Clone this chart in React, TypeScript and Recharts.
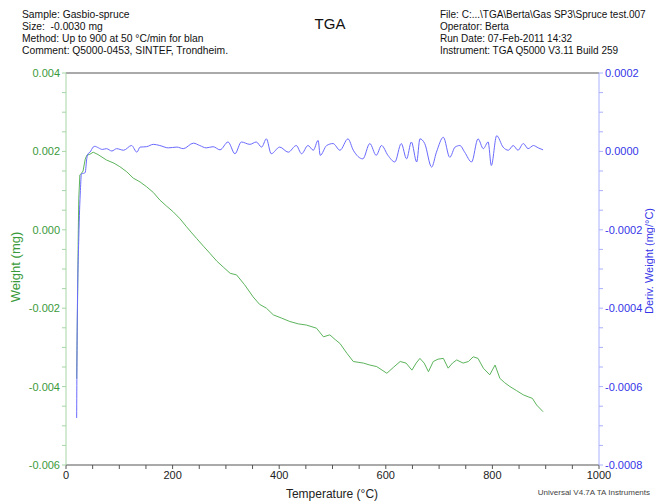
import React from "react";
import { ComposedChart, Line, XAxis, YAxis, ReferenceLine } from "recharts";

const weightTemps = [
  20, 21, 22, 23, 24, 26, 29, 32, 36, 39,
  45, 51, 60, 76, 90, 101, 114, 126, 139, 151,
  164, 176, 189, 201, 214, 226, 236, 245, 258, 270,
  283, 295, 308, 320, 335, 351, 363, 376, 389, 404,
  420, 436, 451, 470, 483, 495, 505, 514, 527, 539,
  558, 570, 583, 602, 615, 627, 638, 649, 657, 664,
  672, 680, 689, 698, 708, 717, 725, 733, 745, 755,
  764, 773, 783, 795, 805, 814, 823, 833, 845, 858,
  867, 875, 883, 895,
];
const weightValues = [
  -0.0038, -0.0026, -0.0015, -0.0001, 0.0008, 0.0014, 0.00144, 0.0015, 0.0018, 0.0019,
  0.00193, 0.00198, 0.00192, 0.00178, 0.0017, 0.00161, 0.00148, 0.00132, 0.00122, 0.0011,
  0.00095, 0.00076, 0.0006, 0.00046, 0.00028, 0.00008, -0.00008, -0.00022, -0.00042, -0.0006,
  -0.0008, -0.00095, -0.00111, -0.00115, -0.0014, -0.00171, -0.0019, -0.002, -0.00217, -0.00225,
  -0.00234, -0.0024, -0.00243, -0.00251, -0.00273, -0.00268, -0.0028, -0.0029, -0.00315, -0.00336,
  -0.0034, -0.00345, -0.00349, -0.00366, -0.0035, -0.00336, -0.0034, -0.00358, -0.0034, -0.00328,
  -0.0034, -0.00362, -0.00336, -0.0033, -0.00328, -0.00353, -0.0034, -0.00332, -0.0034, -0.00336,
  -0.00324, -0.00328, -0.00353, -0.0037, -0.00345, -0.00379, -0.0039, -0.004, -0.0041, -0.00421,
  -0.00426, -0.0043, -0.00447, -0.00464,
];

const derivTemps = [
  20, 21, 24, 27, 29, 33, 36, 39, 42, 45,
  51, 54, 61, 68, 76, 86, 95, 108, 123, 133,
  139, 151, 164, 176, 192, 208, 220, 239, 251, 263,
  276, 289, 304, 317, 329, 345, 357, 367, 376, 385,
  401, 417, 432, 442, 454, 464, 473, 477, 489, 501,
  514, 529, 539, 557, 570, 582, 592, 604, 617, 629,
  639, 648, 658, 664, 673, 686, 695, 708, 720, 730,
  739, 748, 761, 773, 783, 792, 798, 808, 820, 830,
  839, 848, 858, 867, 877, 886, 895,
];
const derivValues = [
  -68e-5, -45e-5, -22e-5, -10e-5, -5.7e-5, -5.6e-5, -5.4e-5, -1.8e-5, -0.5e-5, -0.2e-5,
  1.1e-5, 1.3e-5, 0.9e-5, 0.5e-5, 0.7e-5, 0.1e-5, 0.7e-5, 0.3e-5, 1.5e-5, -0.2e-5,
  1.1e-5, 1.2e-5, 1.8e-5, 1.5e-5, 0.9e-5, 1.1e-5, 0.7e-5, 2.1e-5, 1.5e-5, 0.9e-5,
  1.2e-5, 0.4e-5, 2.4e-5, -0.6e-5, 2.4e-5, 1.8e-5, 2.4e-5, 1.1e-5, 3.2e-5, -0.6e-5,
  1.1e-5, -0.2e-5, 1.5e-5, -0.6e-5, 1.5e-5, 0.3e-5, 2.8e-5, -1.0e-5, 1.5e-5, 2.0e-5,
  0.3e-5, 3.2e-5, 0.3e-5, -1.9e-5, 2.0e-5, -1.0e-5, 1.5e-5, -1.0e-5, -2.7e-5, 2.0e-5,
  -1.9e-5, 2.4e-5, -2.7e-5, 3.2e-5, 2.0e-5, -4.0e-5, -0.2e-5, 3.6e-5, -1.5e-5, 1.1e-5,
  1.5e-5, -0.2e-5, -2.7e-5, 3.2e-5, 0.7e-5, 2.4e-5, -3.6e-5, 4.0e-5, 1.1e-5, 0.3e-5,
  1.5e-5, 0.3e-5, 2.0e-5, 0.7e-5, 1.5e-5, 0.9e-5, 0.4e-5,
];

const xTicks = [0, 50, 100, 150, 200, 250, 300, 350, 400, 450, 500, 550, 600, 650, 700, 750, 800, 850, 900, 950, 1000];
const xLabelStep = 200;
const leftTicks = [-0.006, -0.0055, -0.005, -0.0045, -0.004, -0.0035, -0.003, -0.0025, -0.002, -0.0015, -0.001, -0.0005, 0, 0.0005, 0.001, 0.0015, 0.002, 0.0025, 0.003, 0.0035, 0.004];
const leftLabelStep = 0.002;
const rightTicks = [-0.0008, -0.00075, -0.0007, -0.00065, -0.0006, -0.00055, -0.0005, -0.00045, -0.0004, -0.00035, -0.0003, -0.00025, -0.0002, -0.00015, -0.0001, -0.00005, 0, 0.00005, 0.0001, 0.00015, 0.0002];
const rightLabelStep = 0.0002;

const headerLeft = [
  "Sample: Gasbio-spruce",
  "Size:  -0.0030 mg",
  "Method: Up to 900 at 50 \u00b0C/min for blan",
  "Comment: Q5000-0453, SINTEF, Trondheim.",
];
const headerRight = [
  "File: C:...\\TGA\\Berta\\Gas SP3\\Spruce test.007",
  "Operator: Berta",
  "Run Date: 07-Feb-2011 14:32",
  "Instrument: TGA Q5000 V3.11 Build 259",
];
const titleText = "TGA";
const leftAxisTitle = "Weight (mg)";
const rightAxisTitle = "Deriv. Weight (mg/\u00b0C)";
const xAxisTitle = "Temperature (\u00b0C)";
const footerText = "Universal V4.7A TA Instruments";

const weightData = weightTemps.map((t, i) => ({ T: t, w: weightValues[i] }));
const derivData = derivTemps.map((t, i) => ({ T: t, d: derivValues[i] }));

const isMajor = (v: number, step: number) => Math.abs(v / step - Math.round(v / step)) < 1e-6;

const GREEN = "#3a9a3a";
const BLUE = "#3535e8";
const FONT = "'Liberation Sans', Arial, sans-serif";

export default function App() {
  return (
    <div style={{ position: "absolute", left: 0, top: 0, width: 655, height: 504, fontFamily: FONT, background: "#fff", overflow: "hidden" }}>
      <ComposedChart width={655} height={504} margin={{ top: 73, right: 6, bottom: 9, left: 16 }}>
        <XAxis
          type="number"
          dataKey="T"
          domain={[0, 1000]}
          ticks={xTicks}
          interval={0}
          allowDataOverflow
          height={30}
          stroke="#555"
          tickSize={4}
          tick={{ fill: "#222", fontSize: 11 }}
          tickFormatter={(v: number) => (isMajor(v, xLabelStep) ? String(v) : "")}
        />
        <YAxis
          yAxisId="left"
          orientation="left"
          type="number"
          domain={[-0.006, 0.004]}
          ticks={leftTicks}
          interval={0}
          allowDataOverflow
          width={50}
          stroke="#a6d6a6"
          tickSize={4}
          tick={{ fill: GREEN, fontSize: 11 }}
          tickFormatter={(v: number) => (isMajor(v, leftLabelStep) ? v.toFixed(3) : "")}
        />
        <YAxis
          yAxisId="right"
          orientation="right"
          type="number"
          domain={[-0.0008, 0.0002]}
          ticks={rightTicks}
          interval={0}
          allowDataOverflow
          width={50}
          stroke="#aab0ff"
          tickSize={4}
          tick={{ fill: BLUE, fontSize: 11 }}
          tickFormatter={(v: number) => (isMajor(v, rightLabelStep) ? v.toFixed(4) : "")}
        />
        <ReferenceLine yAxisId="left" y={0.004} stroke="#555" strokeWidth={1} />
        <Line
          yAxisId="left"
          data={weightData}
          dataKey="w"
          type="linear"
          stroke="#5cb45c"
          strokeWidth={1}
          dot={false}
          isAnimationActive={false}
        />
        <Line
          yAxisId="right"
          data={derivData}
          dataKey="d"
          type="monotone"
          stroke="#6a6aff"
          strokeWidth={1}
          dot={false}
          isAnimationActive={false}
        />
      </ComposedChart>

      <div style={{ position: "absolute", left: 22, top: 9, fontSize: 10.3, lineHeight: "12px", color: "#111", whiteSpace: "pre" }}>
        {headerLeft.map((s, i) => (<div key={i}>{s}</div>))}
      </div>
      <div style={{ position: "absolute", left: 440, top: 9, fontSize: 10, lineHeight: "12px", color: "#111", whiteSpace: "pre" }}>
        {headerRight.map((s, i) => (<div key={i}>{s}</div>))}
      </div>
      <div style={{ position: "absolute", left: 300, top: 15, width: 60, textAlign: "center", fontSize: 15, color: "#111" }}>{titleText}</div>

      <div style={{ position: "absolute", left: 15, top: 267, transform: "translate(-50%, -50%) rotate(-90deg)", fontSize: 13, color: GREEN, whiteSpace: "nowrap" }}>{leftAxisTitle}</div>
      <div style={{ position: "absolute", left: 649, top: 261, transform: "translate(-50%, -50%) rotate(-90deg)", fontSize: 11, color: BLUE, whiteSpace: "nowrap" }}>{rightAxisTitle}</div>
      <div style={{ position: "absolute", left: 332, top: 494, transform: "translate(-50%, -50%)", fontSize: 12, color: "#222", whiteSpace: "nowrap" }}>{xAxisTitle}</div>
      <div style={{ position: "absolute", right: 5, top: 488, fontSize: 8, color: "#444", whiteSpace: "nowrap" }}>{footerText}</div>
    </div>
  );
}
